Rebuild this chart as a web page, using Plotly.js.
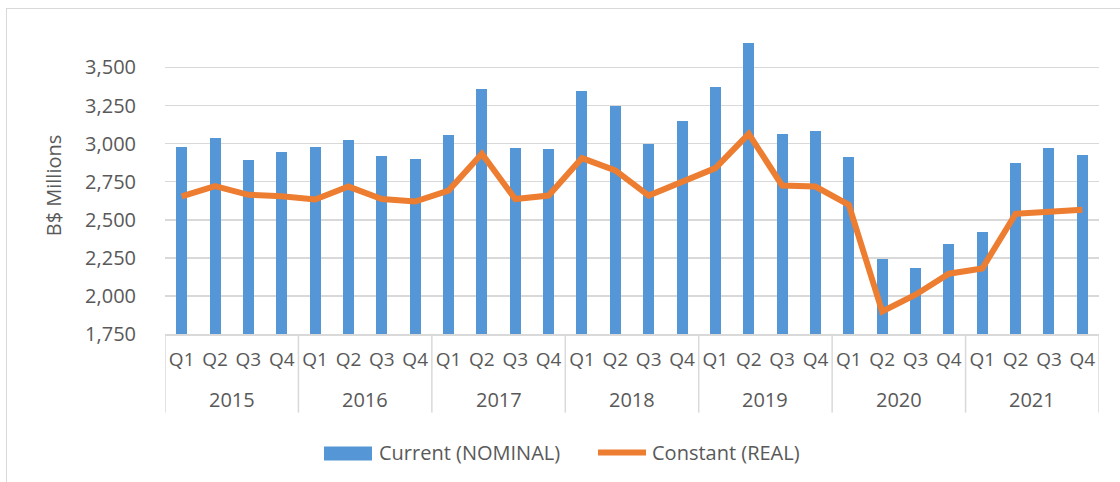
<!DOCTYPE html>
<html>
<head>
<meta charset="utf-8">
<script src="https://cdn.plot.ly/plotly-3.0.1.min.js"></script>
<style>
  html, body { margin: 0; padding: 0; background: #ffffff; }
  #wrap { position: relative; width: 1120px; height: 482px; }
  #chart { position: absolute; left: 0; top: 0; width: 1120px; height: 482px; }
  #frame { position: absolute; left: 6px; top: 8px; width: 1120px; height: 482px;
           border-left: 1.5px solid #d9d9d9; border-top: 1.5px solid #d9d9d9; pointer-events: none; }
</style>
</head>
<body>
<div id="wrap">
  <div id="chart"></div>
  <div id="frame"></div>
</div>
<script>
// ---- data ----
const years = ["2015","2016","2017","2018","2019","2020","2021"];
const quarters = ["Q1","Q2","Q3","Q4"];
const nominal = [
  2975, 3040, 2895, 2948,   // 2015
  2978, 3025, 2920, 2900,   // 2016
  3058, 3360, 2972, 2966,   // 2017
  3346, 3248, 2999, 3150,   // 2018
  3373, 3661, 3064, 3084,   // 2019
  2913, 2244, 2185, 2343,   // 2020
  2421, 2874, 2972, 2927    // 2021
];
const real = [
  2653, 2721, 2664, 2655,
  2633, 2718, 2636, 2620,
  2692, 2933, 2636, 2659,
  2905, 2824, 2659, 2751,
  2839, 3064, 2725, 2718,
  2598, 1898, 2008, 2146,
  2180, 2539, 2550, 2566
];
const seriesNames = ["Current (NOMINAL)", "Constant (REAL)"];
const yTickVals = [1750, 2000, 2250, 2500, 2750, 3000, 3250, 3500];

// ---- categories: one per quarter ----
const cats = [], qText = [];
years.forEach(y => quarters.forEach(q => { cats.push(y + " " + q); qText.push(q); }));

const FONT = "Open Sans, Noto Sans, sans-serif";
const TXT = "#595959";
const FS = 20;
const GRID = "#d9d9d9";
const nQ = quarters.length;

const traces = [
  {
    type: "bar", name: seriesNames[0], x: cats, y: nominal,
    marker: { color: "#5597d6", line: { width: 0 } },
    width: 0.33, hoverinfo: "skip", showlegend: false
  },
  {
    type: "scatter", mode: "lines", name: seriesNames[1], x: cats, y: real,
    line: { color: "#ed7d31", width: 6, shape: "linear" },
    hoverinfo: "skip", showlegend: false
  }
];

// group dividers (category boundaries) and year labels centred in each group
const shapes = [];
const annotations = [];
const divBottom = -(413 - 334.3) / 297.3;
for (let g = 0; g <= years.length; g++) {
  const xb = g * nQ - 0.5;
  shapes.push({ type: "line", xref: "x", yref: "paper", x0: xb, x1: xb, y0: 0, y1: divBottom,
                line: { color: GRID, width: 1.5 } });
}
years.forEach((y, g) => {
  annotations.push({ xref: "x", yref: "paper", x: g * nQ + (nQ - 1) / 2, y: (334.3 - 400) / 297.3,
    xanchor: "center", yanchor: "middle", text: y, showarrow: false,
    font: { family: FONT, size: FS, color: TXT } });
});

// legend drawn to match the reference's long swatches
shapes.push(
  { type: "rect", xref: "paper", yref: "paper", x0: (324-165)/934, x1: (372-165)/934,
    y0: (334.3-461)/297.3, y1: (334.3-447)/297.3, line: { width: 0 }, fillcolor: "#5597d6" },
  { type: "line", xref: "paper", yref: "paper", x0: (598-165)/934, x1: (646-165)/934,
    y0: (334.3-453)/297.3, y1: (334.3-453)/297.3, line: { color: "#ed7d31", width: 6 } }
);
annotations.push(
  { xref: "paper", yref: "paper", x: (377-165)/934, y: (334.3-453)/297.3, xanchor: "left", yanchor: "middle",
    text: seriesNames[0], showarrow: false, font: { family: FONT, size: FS, color: TXT } },
  { xref: "paper", yref: "paper", x: (650-165)/934, y: (334.3-453)/297.3, xanchor: "left", yanchor: "middle",
    text: seriesNames[1], showarrow: false, font: { family: FONT, size: FS, color: TXT } }
);

const layout = {
  width: 1120, height: 482,
  margin: { l: 165, r: 21, t: 37, b: 148, pad: 0 },
  paper_bgcolor: "rgba(0,0,0,0)", plot_bgcolor: "#ffffff",
  font: { family: FONT, size: FS, color: TXT },
  bargap: 0,
  xaxis: {
    type: "category", range: [-0.5, cats.length - 0.5],
    tickvals: cats, ticktext: qText, tickangle: 0,
    showgrid: false, zeroline: false,
    showline: true, linecolor: GRID, linewidth: 1.5,
    ticks: "", ticklabelstandoff: 8,
    tickfont: { family: FONT, size: 19, color: TXT },
    fixedrange: true
  },
  yaxis: {
    range: [1750, 3700], tickvals: yTickVals, tickformat: ",d",
    showgrid: true, gridcolor: GRID, gridwidth: 1.5,
    zeroline: false, showline: false, ticks: "",
    ticklabelstandoff: 28,
    tickfont: { family: FONT, size: FS, color: TXT },
    title: { text: "B$ Millions", font: { family: FONT, size: 20, color: TXT }, standoff: 18 },
    fixedrange: true
  },
  shapes: shapes,
  annotations: annotations
};

Plotly.newPlot("chart", traces, layout, { displayModeBar: false, staticPlot: true });
</script>
</body>
</html>
